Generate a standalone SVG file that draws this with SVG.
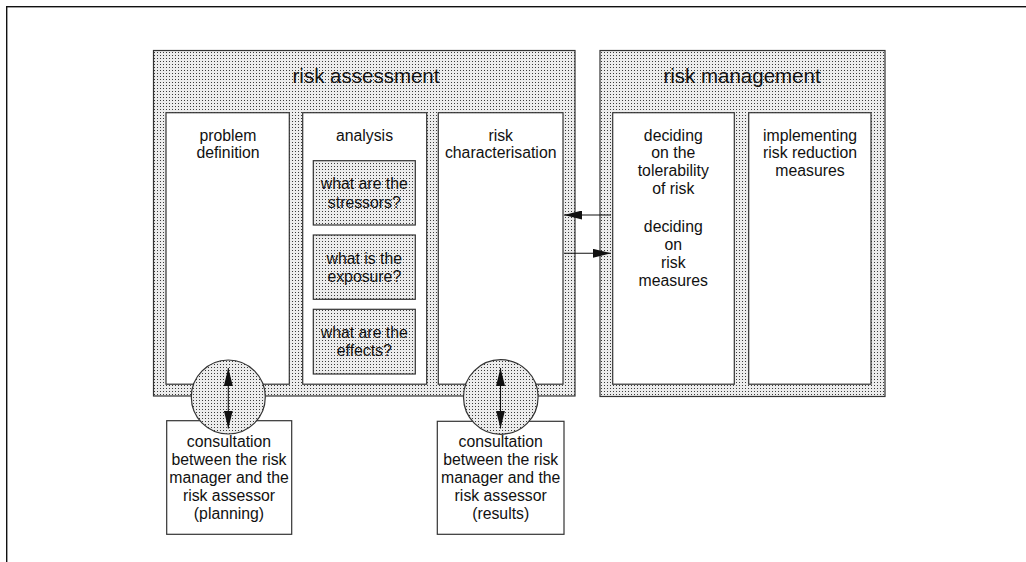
<svg xmlns="http://www.w3.org/2000/svg" width="1026" height="562" viewBox="0 0 1026 562">
  <style>
    .lbl { font-family: "Liberation Sans", Arial, sans-serif; font-size: 15.8px; fill: #111; text-anchor: middle; }
    .title { font-family: "Liberation Sans", Arial, sans-serif; font-size: 20.5px; fill: #111; text-anchor: middle; }
    .stip { fill: url(#stipple); stroke: #333; stroke-width: 1.2; }
    .plain { fill: #fff; stroke: #333; stroke-width: 1.2; }
    .conn { stroke: #111; stroke-width: 1.1; fill: none; }
  </style>
  <defs>
    <pattern id="stipple" width="3" height="3" patternUnits="userSpaceOnUse">
      <rect width="3" height="3" fill="#ececec"/>
      <rect x="1" y="1" width="1" height="1" fill="#3a3a3a"/>
    </pattern>
    <marker id="head" viewBox="0 0 18 9" refX="18" refY="4.5" markerWidth="18" markerHeight="9" markerUnits="userSpaceOnUse" orient="auto-start-reverse">
      <path d="M0,0 L18,4.5 L0,9 z" fill="#111"/>
    </marker>
  </defs>

  <rect width="1026" height="562" fill="#fff"/>
  <!-- page frame -->
  <rect x="6.7" y="6.7" width="1100" height="1100" fill="none" stroke="#111" stroke-width="1.4"/>

  <!-- risk assessment -->
  <g id="risk-assessment">
    <rect class="stip" x="153.5" y="50.5" width="421.5" height="345.5"/>
    <text class="title" x="366" y="83">risk assessment</text>
  </g>
  <g id="problem-definition">
    <rect class="plain" x="166" y="112.7" width="123.3" height="271.5"/>
    <text class="lbl" x="228" y="140.5">problem</text>
    <text class="lbl" x="228" y="158.3">definition</text>
  </g>
  <g id="analysis">
    <rect class="plain" x="302.7" y="112.7" width="124" height="271.5"/>
    <text class="lbl" x="364.5" y="140.5">analysis</text>
  </g>
  <g id="q-stressors">
    <rect class="stip" x="313.3" y="160.7" width="102" height="64.3"/>
    <text class="lbl" x="364.3" y="189.3">what are the</text>
    <text class="lbl" x="364.3" y="207.5">stressors?</text>
  </g>
  <g id="q-exposure">
    <rect class="stip" x="313.3" y="235" width="102" height="64.3"/>
    <text class="lbl" x="364.3" y="263.5">what is the</text>
    <text class="lbl" x="364.3" y="281.5">exposure?</text>
  </g>
  <g id="q-effects">
    <rect class="stip" x="313.3" y="309.3" width="102" height="64.7"/>
    <text class="lbl" x="364.3" y="338">what are the</text>
    <text class="lbl" x="364.3" y="356">effects?</text>
  </g>
  <g id="risk-characterisation">
    <rect class="plain" x="438.3" y="112.7" width="124.7" height="271.5"/>
    <text class="lbl" x="500.7" y="140.5">risk</text>
    <text class="lbl" x="500.7" y="158.3">characterisation</text>
  </g>

  <!-- risk management -->
  <g id="risk-management">
    <rect class="stip" x="600" y="50.5" width="285" height="346"/>
    <text class="title" x="742" y="83">risk management</text>
  </g>
  <g id="deciding">
    <rect class="plain" x="612.7" y="112.7" width="121.6" height="271.5"/>
    <text class="lbl" x="673.3" y="140.5">deciding</text>
    <text class="lbl" x="673.3" y="158.3">on the</text>
    <text class="lbl" x="673.3" y="176.2">tolerability</text>
    <text class="lbl" x="673.3" y="194">of risk</text>
    <text class="lbl" x="673.3" y="232">deciding</text>
    <text class="lbl" x="673.3" y="250">on</text>
    <text class="lbl" x="673.3" y="268">risk</text>
    <text class="lbl" x="673.3" y="286">measures</text>
  </g>
  <g id="implementing">
    <rect class="plain" x="748.7" y="112.7" width="122.3" height="271.5"/>
    <text class="lbl" x="810" y="140.5">implementing</text>
    <text class="lbl" x="810" y="158.3">risk reduction</text>
    <text class="lbl" x="810" y="176.2">measures</text>
  </g>

  <!-- consultation boxes -->
  <g id="consult-planning">
    <rect class="plain" x="166.7" y="420.7" width="125" height="113.6"/>
    <text class="lbl" x="229" y="447.3">consultation</text>
    <text class="lbl" x="229" y="465.3">between the risk</text>
    <text class="lbl" x="229" y="483.3">manager and the</text>
    <text class="lbl" x="229" y="501.3">risk assessor</text>
    <text class="lbl" x="229" y="519.3">(planning)</text>
  </g>
  <g id="consult-results">
    <rect class="plain" x="437.3" y="421.3" width="126.7" height="113"/>
    <text class="lbl" x="500.7" y="447.3">consultation</text>
    <text class="lbl" x="500.7" y="465.3">between the risk</text>
    <text class="lbl" x="500.7" y="483.3">manager and the</text>
    <text class="lbl" x="500.7" y="501.3">risk assessor</text>
    <text class="lbl" x="500.7" y="519.3">(results)</text>
  </g>
  <g id="joint-planning">
    <circle class="stip" cx="228.3" cy="397" r="37"/>
  </g>
  <g id="joint-results">
    <circle class="stip" cx="500.8" cy="397" r="37.3"/>
  </g>

  <!-- connectors -->
  <g id="connectors">
    <line class="conn" x1="611" y1="215" x2="564" y2="215" marker-end="url(#head)"/>
    <line class="conn" x1="564" y1="253.3" x2="611" y2="253.3" marker-end="url(#head)"/>
    <line class="conn" x1="228.3" y1="368" x2="228.3" y2="428.5" marker-start="url(#head)" marker-end="url(#head)"/>
    <line class="conn" x1="500.5" y1="368" x2="500.5" y2="428.5" marker-start="url(#head)" marker-end="url(#head)"/>
  </g>
</svg>
